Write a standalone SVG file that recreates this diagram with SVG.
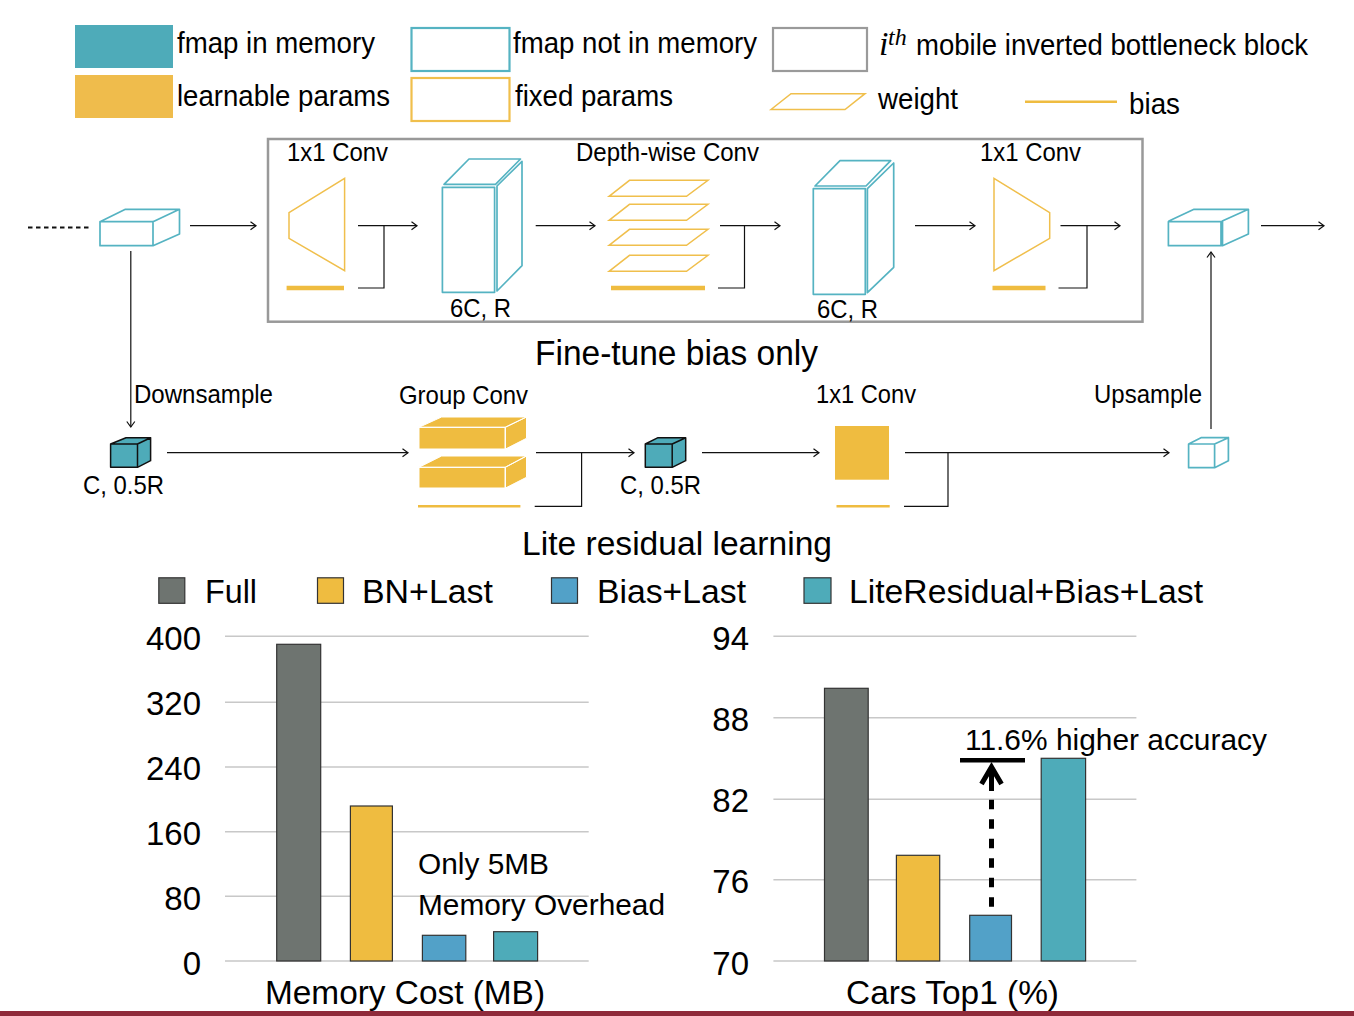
<svg xmlns="http://www.w3.org/2000/svg" width="1354" height="1016" viewBox="0 0 1354 1016">
<style>
text{font-family:"Liberation Sans",Arial,sans-serif;fill:#000;transform:translateY(0.8px)}
.t24{font-size:25px}.t28{font-size:29.500px}.t32{font-size:33px}.t34{font-size:35px}
.to{fill:none;stroke:#55b3c2;stroke-width:1.7;stroke-linejoin:round}
.yo{fill:none;stroke:#f0bf4c;stroke-width:1.5;stroke-linejoin:miter}
.tf{fill:#4eabb9;stroke:#111;stroke-width:1.5;stroke-linejoin:round}
.yf{fill:#efbc40;stroke:#fff;stroke-width:1}
.bias{stroke:#efbc40;fill:none}
.c{fill:none;stroke:#111;stroke-width:1.2}
.grid{stroke:#c8c8c8;stroke-width:1.4}
.bar{stroke:#333;stroke-width:1.2}
.gy{fill:#6e7470}.or{fill:#efbc40}.bl{fill:#52a1c8}.te{fill:#4eabb9}
</style>
<defs>
<marker id="arr" markerUnits="userSpaceOnUse" markerWidth="12" markerHeight="12" refX="7" refY="5" orient="auto"><path d="M1.500 1L7 5L1.500 9" fill="none" stroke="#111" stroke-width="1.200"/></marker>
</defs>
<rect width="1354" height="1016" fill="#fff"/>

<g id="legend">
<rect x="75" y="25" width="98" height="43" fill="#4eabb9"/>
<rect x="75" y="75" width="98" height="43" fill="#efbc4c"/>
<rect x="411.500" y="28" width="98" height="43" fill="none" stroke="#55b3c2" stroke-width="2.200"/>
<rect x="411.500" y="78" width="98" height="43" fill="none" stroke="#f0bf4c" stroke-width="2.200"/>
<rect x="773" y="28" width="94" height="43" fill="none" stroke="#9a9a9a" stroke-width="2.200"/>
<path class="yo" d="M771 109.500L791 93.700H865L845 109.500Z"/>
<path class="bias" stroke-width="2.500" d="M1025 101.700H1117"/>
<text class="t28" x="177" y="52" textLength="198" lengthAdjust="spacingAndGlyphs">fmap in memory</text>
<text class="t28" x="177" y="105" textLength="213" lengthAdjust="spacingAndGlyphs">learnable params</text>
<text class="t28" x="513" y="52" textLength="244" lengthAdjust="spacingAndGlyphs">fmap not in memory</text>
<text class="t28" x="515" y="105" textLength="158" lengthAdjust="spacingAndGlyphs">fixed params</text>
<text x="879" y="54" style="font-family:'Liberation Serif',serif;font-style:italic;font-size:34px">i</text>
<text x="888" y="44" style="font-family:'Liberation Serif',serif;font-style:italic;font-size:24px">th</text>
<text class="t28" x="916" y="54" textLength="392" lengthAdjust="spacingAndGlyphs">mobile inverted bottleneck block</text>
<text class="t28" x="878" y="108" textLength="80" lengthAdjust="spacingAndGlyphs">weight</text>
<text class="t28" x="1129" y="113" textLength="51" lengthAdjust="spacingAndGlyphs">bias</text>
</g>

<g id="block-box">
<rect x="268" y="139" width="874.500" height="182.700" fill="none" stroke="#999" stroke-width="2.500"/>
</g>

<g id="fmap-in">
<path d="M28 227.500H91" stroke="#111" stroke-width="2.200" stroke-dasharray="4.500 3.500" fill="none"/>
<path class="to" d="M100 221.700H153V245.700H100Z M100 221.700L125.400 209.300H179.500L153 221.700 M153 245.700L179.500 234V209.300"/>
</g>
<g id="conv-1">
<text class="t24" x="287" y="160" textLength="101" lengthAdjust="spacingAndGlyphs">1x1 Conv</text>
<path class="yo" d="M289 212.700L344.600 178.300V270.700L289 238.300Z"/>
<path class="bias" stroke-width="4.500" d="M286.600 288H344"/>
</g>
<g id="fmap-6c-1">
<path class="to" d="M442.400 187.300H494.600V292.300H442.400Z M444 184.300L469 159H520.500L495.500 184.300Z M497 186L522 161.300V265.700L497 291Z"/>
<text class="t24" x="450" y="316" textLength="61" lengthAdjust="spacingAndGlyphs">6C, R</text>
</g>
<g id="depthwise-conv">
<text class="t24" x="576" y="160" textLength="183" lengthAdjust="spacingAndGlyphs">Depth-wise Conv</text>
<path class="yo" d="M609 196.300L629.500 180.300H708L686.500 196.300Z"/>
<path class="yo" d="M609 220.300L629.500 204.300H708L686.500 220.300Z"/>
<path class="yo" d="M609 245.300L629.500 229.300H708L686.500 245.300Z"/>
<path class="yo" d="M609 271.300L629.500 255.300H708L686.500 271.300Z"/>
<path class="bias" stroke-width="4.500" d="M611 288H705"/>
</g>
<g id="fmap-6c-2">
<path class="to" d="M813.300 188.700H865.300V294.300H813.300Z M815 186L840 160.700H890.700L866 186Z M867.400 188.700L893.700 163V267.300L867.400 292.700Z"/>
<text class="t24" x="817" y="317" textLength="61" lengthAdjust="spacingAndGlyphs">6C, R</text>
</g>
<g id="conv-2">
<text class="t24" x="980" y="160" textLength="101" lengthAdjust="spacingAndGlyphs">1x1 Conv</text>
<path class="yo" d="M994 178.300L1049.700 212.700V238.300L994 270.700Z"/>
<path class="bias" stroke-width="4.500" d="M992.500 288H1045.500"/>
</g>
<g id="fmap-out">
<path class="to" d="M1168.400 221.700H1221V245.700H1168.400Z M1168.400 221.300L1194 209.300H1248.400L1221.700 221.300 M1222.500 221.300V245.700L1248.400 234V209.300"/>
</g>
<text class="t34" x="535" y="364" textLength="283" lengthAdjust="spacingAndGlyphs">Fine-tune bias only</text>

<g id="fmap-small-1">
<path class="tf" d="M110.600 444H137.500V467.300H110.600Z M110.600 444L126 437.700H150.600L137.500 444Z M137.500 444L150.600 437.700V460.700L137.500 467.300Z"/>
<text class="t24" x="83" y="493" textLength="81" lengthAdjust="spacingAndGlyphs">C, 0.5R</text>
</g>
<g id="group-conv">
<text class="t24" x="399" y="403" textLength="129" lengthAdjust="spacingAndGlyphs">Group Conv</text>
<path class="yf" d="M419 427.300L441.600 417H526.500L505 427.300Z M419 427.300H505V449H419Z M505.500 427.300L526.500 417V438.300L505.500 449Z"/>
<path class="yf" d="M419 467.300L441.600 456H526.500L505 467.300Z M419 467.300H505V488H419Z M505.500 467.300L526.500 456V477.300L505.500 488Z"/>
<path class="bias" stroke-width="2.500" d="M418 506.300H520.400"/>
</g>
<g id="fmap-small-2">
<path class="tf" d="M645.300 444H672.200V467.300H645.300Z M645.300 444L658 437.700H685.700L672.200 444Z M672.200 444L685.700 437.700V460.700L672.200 467.300Z"/>
<text class="t24" x="620" y="493" textLength="81" lengthAdjust="spacingAndGlyphs">C, 0.5R</text>
</g>
<g id="conv-3">
<text class="t24" x="816" y="402" textLength="100" lengthAdjust="spacingAndGlyphs">1x1 Conv</text>
<rect x="835" y="426" width="54" height="53.700" fill="#efbc40"/>
<path class="bias" stroke-width="2.500" d="M836.500 506.300H889.700"/>
</g>
<g id="fmap-small-3">
<path class="to" d="M1188.600 444H1214.600V467.700H1188.600Z M1188.600 444L1201 437.700H1228.400L1214.600 444 M1214.600 444L1228.400 437.700V460.700L1214.600 467.700"/>
</g>
<text class="t24" x="134" y="402" textLength="139" lengthAdjust="spacingAndGlyphs">Downsample</text>
<text class="t24" x="1094" y="402" textLength="108" lengthAdjust="spacingAndGlyphs">Upsample</text>
<text class="t32" x="522" y="554" textLength="310" lengthAdjust="spacingAndGlyphs">Lite residual learning</text>

<g id="connectors">
<path class="c" marker-end="url(#arr)" d="M190 225.700H256"/>
<path class="c" marker-end="url(#arr)" d="M358 225.700H417"/>
<path class="c" d="M358 288H384V225.700"/>
<path class="c" marker-end="url(#arr)" d="M535.700 225.700H595"/>
<path class="c" marker-end="url(#arr)" d="M720 225.700H780"/>
<path class="c" d="M718 288H744.500V225.700"/>
<path class="c" marker-end="url(#arr)" d="M915 225.700H975"/>
<path class="c" marker-end="url(#arr)" d="M1060.500 225.700H1120"/>
<path class="c" d="M1058.500 288H1087V225.700"/>
<path class="c" marker-end="url(#arr)" d="M1261 225.700H1324"/>
<path class="c" marker-end="url(#arr)" d="M130.800 251V427"/>
<path class="c" marker-end="url(#arr)" d="M1211 429V252"/>
<path class="c" marker-end="url(#arr)" d="M167 452.700H408"/>
<path class="c" marker-end="url(#arr)" d="M536 452.700H634"/>
<path class="c" d="M534.700 506.300H581.600V452.700"/>
<path class="c" marker-end="url(#arr)" d="M702 452.700H819"/>
<path class="c" marker-end="url(#arr)" d="M905 452.700H1169"/>
<path class="c" d="M904 506.300H948V452.700"/>
</g>

<g id="chart-legend">
<rect class="bar gy" x="158.800" y="577.800" width="26" height="25.500"/>
<rect class="bar or" x="317.500" y="577.800" width="26" height="25.500"/>
<rect class="bar bl" x="551.500" y="577.800" width="26" height="25.500"/>
<rect class="bar te" x="804" y="577.800" width="27" height="25.500"/>
<text class="t32" x="205" y="602" textLength="52" lengthAdjust="spacingAndGlyphs">Full</text>
<text class="t32" x="362" y="602" textLength="131" lengthAdjust="spacingAndGlyphs">BN+Last</text>
<text class="t32" x="597" y="602" textLength="149" lengthAdjust="spacingAndGlyphs">Bias+Last</text>
<text class="t32" x="849" y="602" textLength="354" lengthAdjust="spacingAndGlyphs">LiteResidual+Bias+Last</text>
</g>

<g id="chart-memory">
<path class="grid" d="M225 636.300H588.700M225 702.300H588.700M225 767H588.700M225 831.700H588.700M225 896.300H588.700M225 961H588.700"/>
<text class="t32" x="201" y="649" text-anchor="end">400</text>
<text class="t32" x="201" y="714" text-anchor="end">320</text>
<text class="t32" x="201" y="779" text-anchor="end">240</text>
<text class="t32" x="201" y="844" text-anchor="end">160</text>
<text class="t32" x="201" y="909" text-anchor="end">80</text>
<text class="t32" x="201" y="974" text-anchor="end">0</text>
<rect class="bar gy" x="276.700" y="644.300" width="44" height="316.700"/>
<rect class="bar or" x="350.400" y="806" width="42" height="155"/>
<rect class="bar bl" x="422.400" y="935.300" width="43.400" height="25.700"/>
<rect class="bar te" x="493.600" y="931.700" width="44" height="29.300"/>
<text class="t28" x="418" y="873" textLength="131" lengthAdjust="spacingAndGlyphs">Only 5MB</text>
<text class="t28" x="418" y="914" textLength="247" lengthAdjust="spacingAndGlyphs">Memory Overhead</text>
<text class="t32" x="265" y="1003" textLength="280" lengthAdjust="spacingAndGlyphs">Memory Cost (MB)</text>
</g>

<g id="chart-accuracy">
<path class="grid" d="M773.400 636.300H1136.400M773.400 717.700H1136.400M773.400 799.300H1136.400M773.400 879.700H1136.400M773.400 961H1136.400"/>
<text class="t32" x="749" y="649" text-anchor="end">94</text>
<text class="t32" x="749" y="730" text-anchor="end">88</text>
<text class="t32" x="749" y="811" text-anchor="end">82</text>
<text class="t32" x="749" y="892" text-anchor="end">76</text>
<text class="t32" x="749" y="974" text-anchor="end">70</text>
<rect class="bar gy" x="824.500" y="688.300" width="43.700" height="272.700"/>
<rect class="bar or" x="896.400" y="855.300" width="43.300" height="105.700"/>
<rect class="bar bl" x="969.700" y="915.300" width="41.800" height="45.700"/>
<rect class="bar te" x="1041.200" y="758.300" width="44.400" height="202.700"/>
<path d="M960 760.300H1025" stroke="#000" stroke-width="4.500" fill="none"/>
<path d="M991.500 906.700V797" stroke="#000" stroke-width="5" stroke-dasharray="9.500 10" fill="none"/>
<path d="M991.500 791V768" stroke="#000" stroke-width="5" fill="none"/>
<path d="M981.500 784L991.500 767L1001.500 784" stroke="#000" stroke-width="5" fill="none"/>
<text class="t28" x="965" y="749" textLength="302" lengthAdjust="spacingAndGlyphs">11.6% higher accuracy</text>
<text class="t32" x="846" y="1003" textLength="213" lengthAdjust="spacingAndGlyphs">Cars Top1 (%)</text>
</g>

<rect x="0" y="1011" width="1354" height="5" fill="#8f2a3a"/>
</svg>
